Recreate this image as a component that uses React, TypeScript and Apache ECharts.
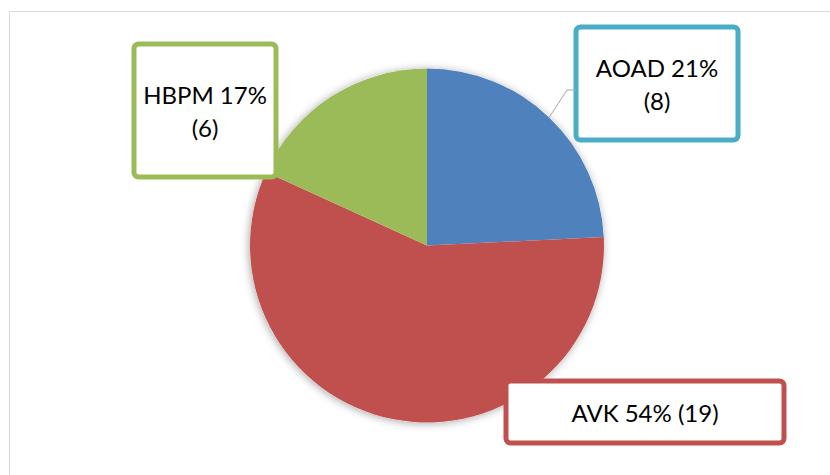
import React, { useEffect, useRef } from "react";
import * as echarts from "echarts";

// Patient counts per anticoagulant group
const categories = ["AOAD", "AVK", "HBPM"];
const counts = [8, 19, 6];
const percentLabels = [21, 54, 17];
const sliceColors = ["#4F81BD", "#C0504D", "#9BBB59"];
const boxColors = ["#4BACC6", "#C0504D", "#9BBB59"];

const CENTER: [number, number] = [427, 245.5];
const RADIUS = 177;
const FONT = "Lato, 'Open Sans', sans-serif";

// Callout boxes: centre, content width, padding [top, right, bottom, left]
const boxLayout = [
  { x: 657, y: 83.5, width: 157, padding: [23, 0, 19, 0], wrap: true },
  { x: 645, y: 412, width: 273, padding: [13, 0, 11, 0], wrap: false },
  { x: 205, y: 110.5, width: 137, padding: [33, 0, 29, 0], wrap: true },
];

export default function App() {
  const ref = useRef<HTMLDivElement>(null);

  useEffect(() => {
    document.body.style.margin = "0";
    if (!ref.current) return;
    const chart = echarts.init(ref.current, undefined, { renderer: "svg" });

    const total = counts.reduce((a, b) => a + b, 0);
    // Leader line for the first slice: from its mid-angle on the rim to its box
    const midDeg = ((counts[0] / 2) / total) * 360;
    const midRad = (midDeg * Math.PI) / 180;
    const rim = [
      CENTER[0] + RADIUS * Math.sin(midRad),
      CENTER[1] - RADIUS * Math.cos(midRad),
    ];
    const boxLeft = boxLayout[0].x - boxLayout[0].width / 2 - 2.5;

    chart.setOption({
      animation: false,
      backgroundColor: "#ffffff",
      graphic: [
        {
          type: "rect",
          z: -10,
          silent: true,
          shape: { x: 9.5, y: 11.5, width: 900, height: 600 },
          style: { fill: "#ffffff", stroke: "#D9D9D9", lineWidth: 1 },
        },
        {
          type: "polyline",
          z: 10,
          silent: true,
          shape: {
            points: [rim, [boxLeft - 9, boxLayout[0].y + 6.5], [boxLeft, boxLayout[0].y + 6.5]],
          },
          style: { stroke: "#A6A6A6", lineWidth: 1, fill: "none" },
        },
      ],
      series: [
        {
          // soft shadow behind the whole pie
          type: "pie",
          silent: true,
          z: 1,
          center: CENTER,
          radius: RADIUS,
          label: { show: false },
          labelLine: { show: false },
          itemStyle: {
            color: "#ffffff",
            shadowBlur: 9,
            shadowColor: "rgba(0,0,0,0.35)",
            shadowOffsetX: -1,
            shadowOffsetY: 1,
          },
          data: [{ value: 1, name: "" }],
        },
        {
          type: "pie",
          z: 2,
          center: CENTER,
          radius: RADIUS,
          startAngle: 90,
          clockwise: true,
          label: {
            show: true,
            position: "outside",
            fontFamily: FONT,
            fontSize: 24,
            lineHeight: 33,
            color: "#000000",
            align: "center",
            backgroundColor: "#ffffff",
            borderWidth: 5,
            borderRadius: 2,
          },
          labelLine: { show: false },
          labelLayout: (params: any) => {
            const b = boxLayout[params.dataIndex];
            return { x: b.x, y: b.y, align: "center", verticalAlign: "middle" };
          },
          data: categories.map((name, i) => ({
            name,
            value: counts[i],
            itemStyle: { color: sliceColors[i] },
            label: {
              width: boxLayout[i].width,
              padding: boxLayout[i].padding,
              borderColor: boxColors[i],
              formatter: () =>
                `${name} ${percentLabels[i]}%` +
                (boxLayout[i].wrap ? "\n" : " ") +
                `(${counts[i]})`,
            },
          })),
        },
      ],
    });

    return () => chart.dispose();
  }, []);

  return <div ref={ref} style={{ width: 830, height: 475 }} />;
}
